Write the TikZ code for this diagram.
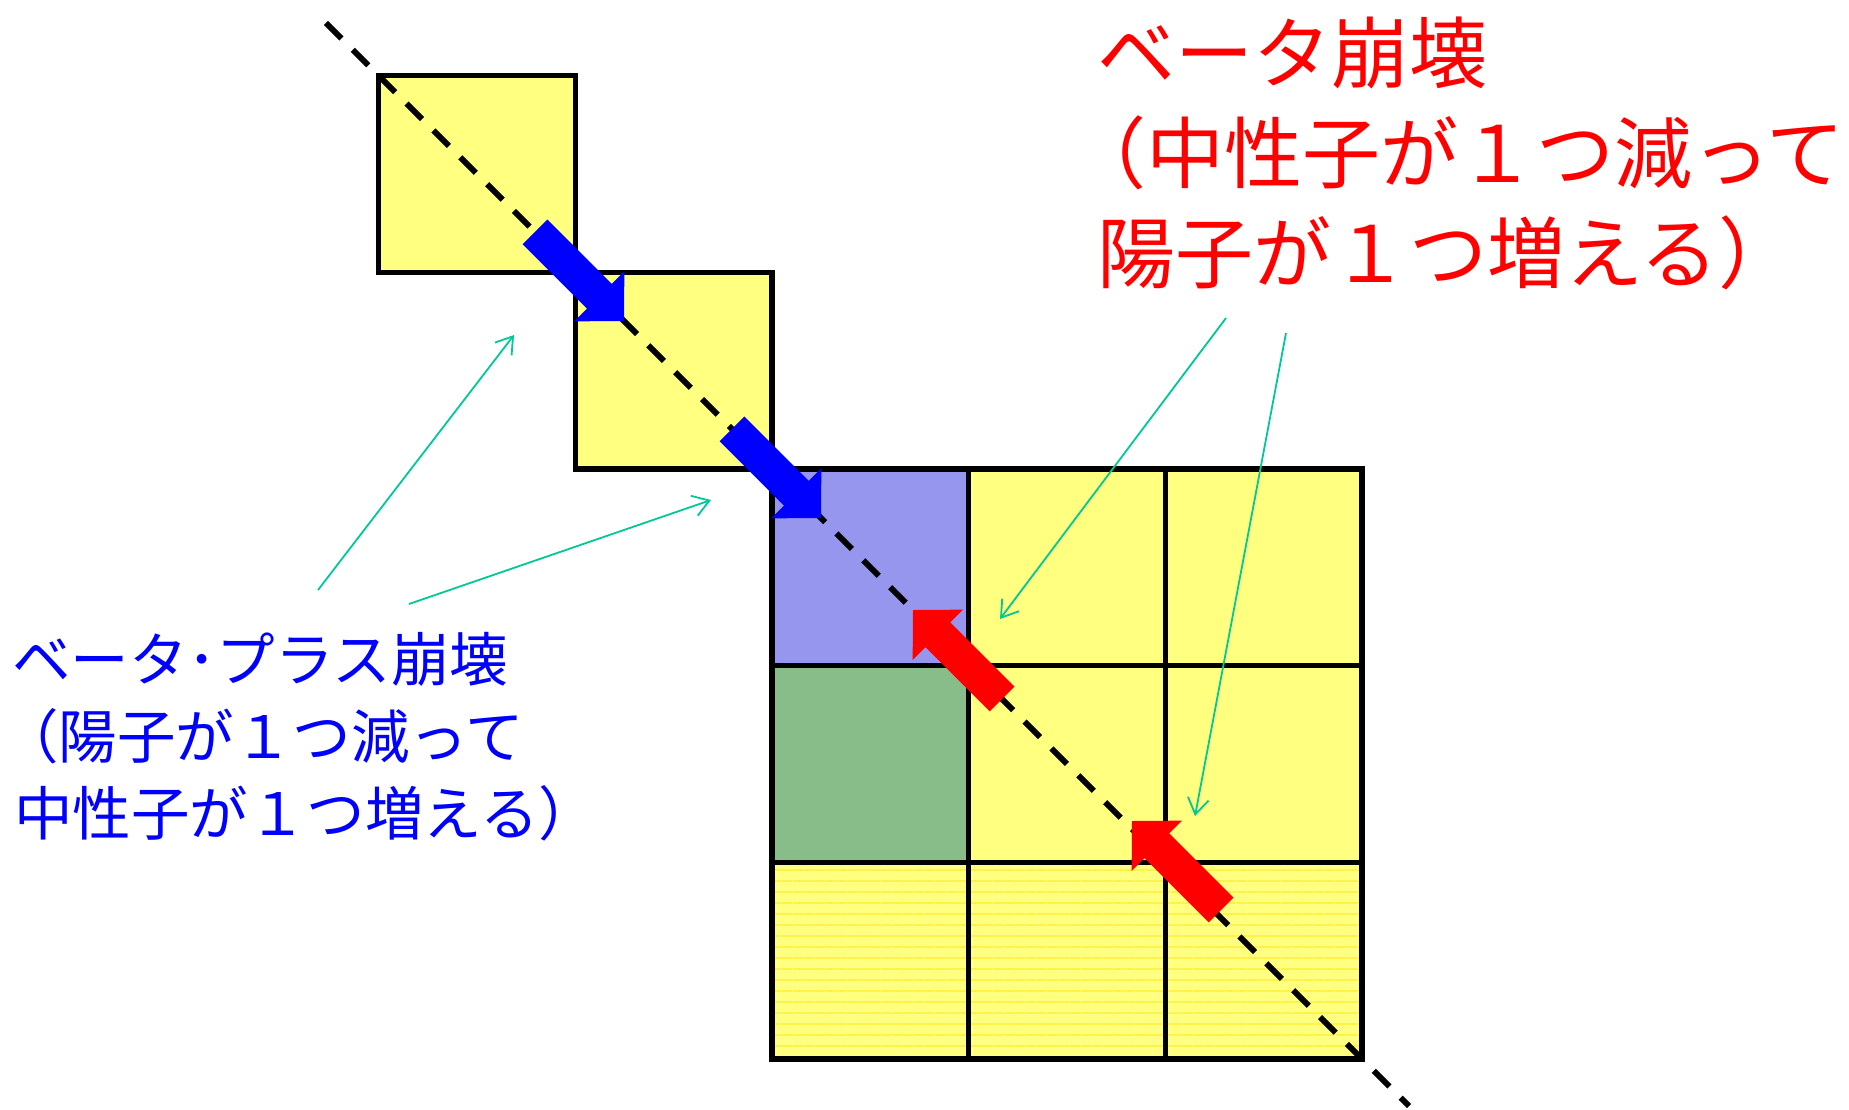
\documentclass[tikz,border=0pt]{standalone}
\usepackage{fontspec}
\newfontfamily\jpfont{Noto Sans CJK JP}
\usetikzlibrary{arrows.meta,patterns.meta}

\definecolor{cellyellow}{RGB}{255,255,128}
\definecolor{stripeyellow}{RGB}{255,236,40}
\definecolor{cellblue}{RGB}{150,150,238}
\definecolor{cellgreen}{RGB}{136,188,136}
\definecolor{leadercol}{RGB}{0,200,150}

\tikzset{
  cell/.style={draw=black, line width=5.5pt, minimum size=196.7pt, inner sep=0pt, outer sep=0pt, fill=cellyellow},
  stripecell/.style={draw=black, line width=5.5pt, minimum size=196.7pt, inner sep=0pt, outer sep=0pt,
    preaction={fill=cellyellow}, pattern={Lines[angle=0,distance=10.5pt,line width=1.2pt]}, pattern color=stripeyellow},
  diag/.style={line width=6pt, dash pattern=on 22pt off 16pt, dash phase=24pt},
  leader/.style={draw=leadercol, line width=1.8pt, -{Straight Barb[length=16pt,width=21pt]}},
  redtext/.style={anchor=base west, inner sep=0pt, text=red, font=\jpfont\fontsize{78}{100}\selectfont},
  bluetext/.style={anchor=base west, inner sep=0pt, text=blue, font=\jpfont\fontsize{58.5}{77}\selectfont},
  bigarrow/.pic={
    \fill[#1] (0,0) -- (-35,35.5) -- (-35,17.5) -- (-126,17.5) -- (-126,-17.5) -- (-35,-17.5) -- (-35,-35.5) -- cycle;
  }
}

\begin{document}
\begin{tikzpicture}[x=1pt, y=-1pt]
  \useasboundingbox (0,0) rectangle (1849,1109);

  %% ════ 階段状のマス ════
  \node[cell] (sq1) at (476.95,173.95) {};
  \node[cell] (sq2) at (673.65,370.65) {};

  %% ════ 3x3 のマス ════
  \node[cell, fill=cellblue]  (g11) at (870.35,567.35) {};
  \node[cell]                 (g12) at (1067.05,567.35) {};
  \node[cell]                 (g13) at (1263.75,567.35) {};
  \node[cell, fill=cellgreen] (g21) at (870.35,764.05) {};
  \node[cell]                 (g22) at (1067.05,764.05) {};
  \node[cell]                 (g23) at (1263.75,764.05) {};
  \node[stripecell]           (g31) at (870.35,960.75) {};
  \node[stripecell]           (g32) at (1067.05,960.75) {};
  \node[stripecell]           (g33) at (1263.75,960.75) {};

  %% ════ 対角の破線 ════
  \coordinate (diagtop) at (316,13);
  \coordinate (diagbot) at (1409,1106);
  \draw[diag] (diagtop) -- (diagbot);

  %% ════ 太い矢印 ════
  \pic[rotate=-45] at (624,321) {bigarrow=blue};
  \pic[rotate=-45] at (821,518) {bigarrow=blue};
  \pic[rotate=135] at (913,610) {bigarrow=red};
  \pic[rotate=135] at (1132,821) {bigarrow=red};

  %% ════ 文字 ════
  \node[redtext] (minus1) at (1097,82)  {ベータ崩壊};
  \node[redtext] (minus2) at (1068,182) {（中性子が１つ減って};
  \node[redtext] (minus3) at (1097,282) {陽子が１つ増える）};
  \node[bluetext] (plus1) at (12,681) {ベータ･プラス崩壊};
  \node[bluetext] (plus2) at (0,758)  {（陽子が１つ減って};
  \node[bluetext] (plus3) at (14,835) {中性子が１つ増える）};

  %% ════ 引き出し線 ════
  \coordinate (leadA) at (318,590);   \coordinate (tipA) at (514,335);
  \coordinate (leadB) at (409,604);   \coordinate (tipB) at (711,500);
  \coordinate (leadC) at (1226,318);  \coordinate (tipC) at (1000,619);
  \coordinate (leadD) at (1286,333);  \coordinate (tipD) at (1195,816);
  \draw[leader] (leadA) -- (tipA);
  \draw[leader] (leadB) -- (tipB);
  \draw[leader] (leadC) -- (tipC);
  \draw[leader] (leadD) -- (tipD);
\end{tikzpicture}
\end{document}
